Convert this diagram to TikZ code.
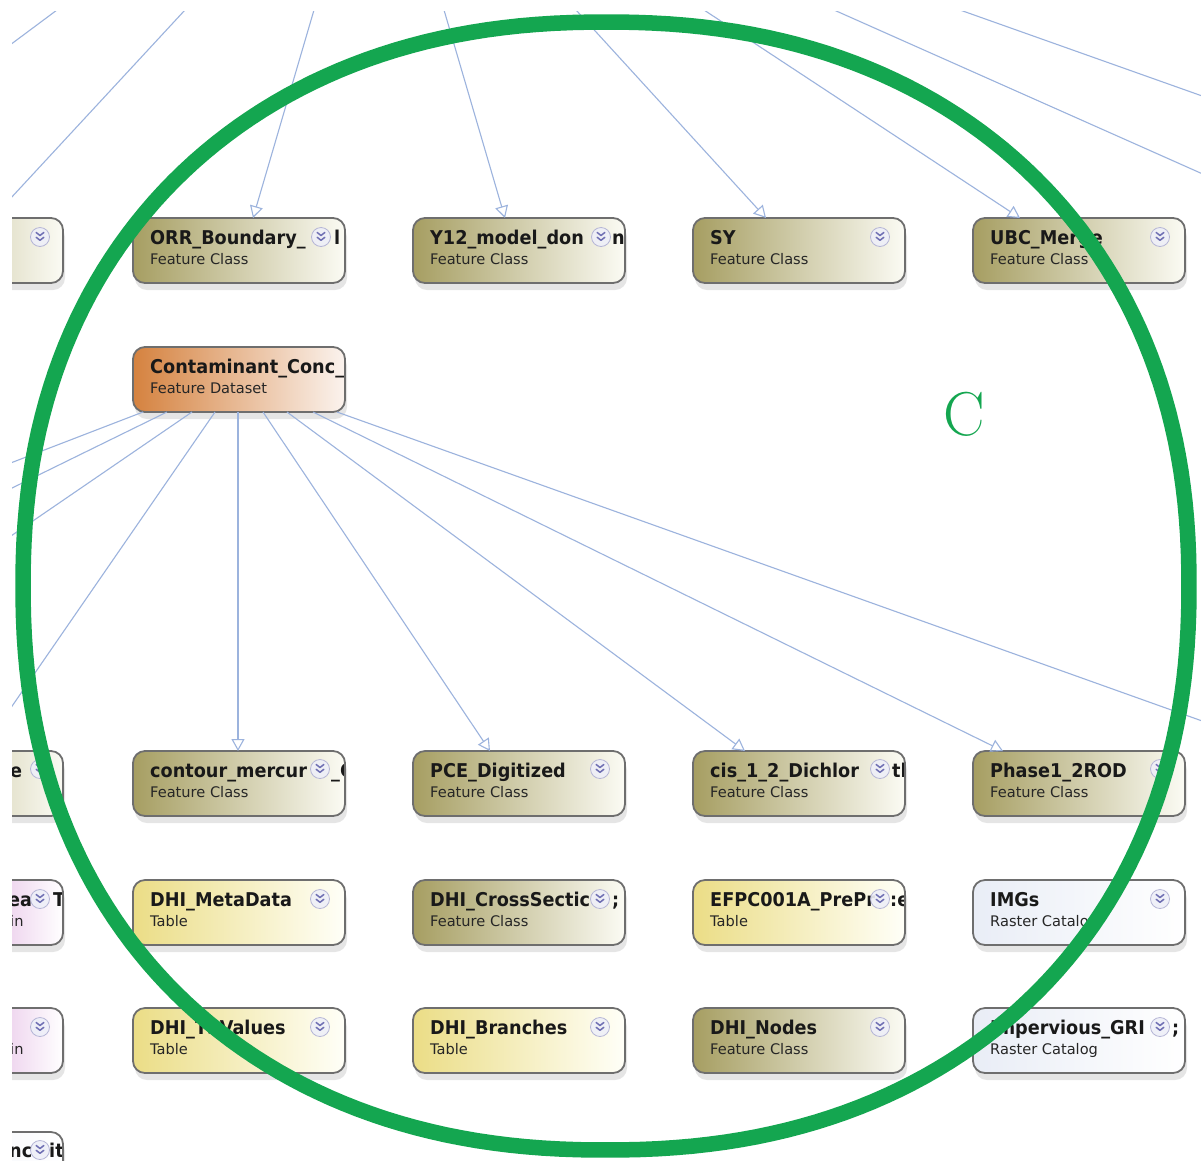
\documentclass[tikz,border=0pt]{standalone}
\usepackage{fontspec}
\newfontfamily\ttlfont{DejaVu Sans}[FakeStretch=0.93]
\newfontfamily\subfont{DejaVu Sans}
\usetikzlibrary{arrows.meta,shadows,calc}
\definecolor{fcL}{HTML}{A69E62}
\definecolor{fcR}{HTML}{FBFBF4}
\definecolor{tbL}{HTML}{EBDD86}
\definecolor{tbR}{HTML}{FFFFF8}
\definecolor{rcL}{HTML}{E9EDF6}
\definecolor{fdL}{HTML}{D5823F}
\definecolor{fdR}{HTML}{FBF3EE}
\definecolor{pkL}{HTML}{C060C0}
\definecolor{bord}{HTML}{6E6E6E}
\definecolor{lnkc}{HTML}{9CB3DD}
\definecolor{ringc}{HTML}{14A650}
\definecolor{chevF}{HTML}{EEEFF8}
\definecolor{chevR}{HTML}{B5B5D6}
\definecolor{chevM}{HTML}{6F6FB3}
\tikzset{
  dbox/.style={rectangle, rounded corners=12pt, minimum width=212pt, minimum height=65pt,
    inner sep=0pt, outer sep=0pt,
    drop shadow={shadow xshift=2pt, shadow yshift=-7pt, opacity=0.2}},
  fcbox/.style={left color=fcL, right color=fcR},
  tbbox/.style={left color=tbL, right color=tbR},
  rcbox/.style={left color=rcL, right color=white},
  fdbox/.style={left color=fdL, right color=fdR},
  pkbox/.style={left color=pkL, right color=white},
  dttl/.style={anchor=base west, inner sep=0pt, text=black!90,
    font=\ttlfont\bfseries\fontsize{19}{19}\selectfont},
  dsub/.style={anchor=base west, inner sep=0pt, text=black!85,
    font=\subfont\fontsize{14.6}{14.6}\selectfont},
  dborder/.style={draw=bord, line width=1.8pt, rounded corners=12pt},
  lnk/.style={draw=lnkc, line width=1.1pt},
  lnkarr/.style={lnk, -{Triangle[open, length=12pt, width=13pt]}},
  ring/.style={draw=ringc, line width=15.5pt},
  chev/.pic={
    \fill[chevF, fill opacity=0.9] (0,0) circle (9.5);
    \draw[chevR, line width=0.8pt] (0,0) circle (9.5);
    \draw[chevM, line width=1.5pt, line cap=round, line join=round]
      (-3.8,-4.5) -- (0,-1.5) -- (3.8,-4.5) (-3.8,0.3) -- (0,3.3) -- (3.8,0.3);
  }
}
\newcommand\dsnode[7]{%
  \node[dbox,#4] (#1) at ({#2+106},{#3+32.5}) {};
  \begin{scope}
    \clip[rounded corners=12pt] (#1.north west) rectangle (#1.south east);
    \node[dttl] (#1-t) at ({#2+17},{#3+26}) {#5};
    \node[dsub] (#1-s) at ({#2+17},{#3+46}) {#6};
    #7
  \end{scope}
  \draw[dborder] (#1.north west) rectangle (#1.south east);
}
\begin{document}
\begin{tikzpicture}[x=1pt,y=-1pt]
\useasboundingbox (0,0) rectangle (1201,1160);
\fill[white] (0,0) rectangle (1201,1160);
\begin{scope}
\clip (12,11) rectangle (1201,1160);
% row 1
\dsnode{l1}{-149}{218}{fcbox}{}{}{\pic at (40,237) {chev};}
\dsnode{orr}{133}{218}{fcbox}{ORR\_Boundary\_}{Feature Class}{\pic at (321,237) {chev}; \node[dttl] (orr-f) at (334,244) {l};}
\dsnode{y12}{413}{218}{fcbox}{Y12\_model\_don}{Feature Class}{\pic at (601,237) {chev}; \node[dttl] (y12-f) at (612,244) {n};}
\dsnode{sy}{693}{218}{fcbox}{SY}{Feature Class}{\pic at (880,237) {chev};}
\dsnode{ubc}{973}{218}{fcbox}{UBC\_Merge}{Feature Class}{\pic at (1160,237) {chev};}
% row 2
\dsnode{cc}{133}{347}{fdbox}{Contaminant\_Conc\_}{Feature Dataset}{}
% row 3
\dsnode{l3}{-149}{751}{fcbox}{}{}{\node[dttl] (l3-f) at (10,777) {e}; \pic at (40,769) {chev};}
\dsnode{cm}{133}{751}{fcbox}{contour\_mercur}{Feature Class}{\pic at (320,769) {chev}; \node[dttl] (cm-f) at (331,777) {\_C};}
\dsnode{pce}{413}{751}{fcbox}{PCE\_Digitized}{Feature Class}{\pic at (600,769) {chev};}
\dsnode{cis}{693}{751}{fcbox}{cis\_1\_2\_Dichlor}{Feature Class}{\pic at (880,769) {chev}; \node[dttl] (cis-f) at (892,777) {tl};}
\dsnode{ph}{973}{751}{fcbox}{Phase1\_2ROD}{Feature Class}{\pic at (1160,769) {chev};}
% row 4
\dsnode{l4}{-149}{880}{pkbox}{}{}{\node[dttl] (l4-f) at (8,906) {ea}; \node[dsub] (l4-g) at (10,926) {in}; \pic at (40,899) {chev}; \node[dttl] (l4-h) at (53,906) {T};}
\dsnode{meta}{133}{880}{tbbox}{DHI\_MetaData}{Table}{\pic at (320,899) {chev};}
\dsnode{xs}{413}{880}{fcbox}{DHI\_CrossSectic}{Feature Class}{\pic at (600,899) {chev}; \node[dttl] (xs-f) at (612,906) {;};}
\dsnode{efpc}{693}{880}{tbbox}{EFPC001A\_PrePr}{Table}{\pic at (880,899) {chev}; \node[dttl] (efpc-f) at (890,906) {:e};}
\dsnode{imgs}{973}{880}{rcbox}{IMGs}{Raster Catalog}{\pic at (1160,899) {chev};}
% row 5
\dsnode{l5}{-149}{1008}{pkbox}{}{}{\node[dsub] (l5-g) at (10,1054) {in}; \pic at (40,1027) {chev};}
\dsnode{ts}{133}{1008}{tbbox}{DHI\_TSValues}{Table}{\pic at (320,1027) {chev};}
\dsnode{br}{413}{1008}{tbbox}{DHI\_Branches}{Table}{\pic at (600,1027) {chev};}
\dsnode{nd}{693}{1008}{fcbox}{DHI\_Nodes}{Feature Class}{\pic at (880,1027) {chev};}
\dsnode{imp}{973}{1008}{rcbox}{Impervious\_GRI}{Raster Catalog}{\pic at (1160,1027) {chev}; \node[dttl] (imp-f) at (1172,1034) {;};}
% row 6
\dsnode{l6}{-149}{1132}{rcbox}{}{}{\node[dttl] (l6-f) at (9,1157) {nc}; \pic at (40,1150) {chev}; \node[dttl] (l6-h) at (49,1157) {it};}
% free ends
\coordinate (t1a) at (57,10); \coordinate (t1b) at (10,45);
\coordinate (t2a) at (185,10); \coordinate (t2b) at (10,199);
\coordinate (t3) at (314,10);
\coordinate (t4) at (444,10);
\coordinate (t5) at (576,10);
\coordinate (t6) at (704,10);
\coordinate (t7a) at (834,10); \coordinate (t7b) at (1205,175);
\coordinate (t8a) at (960,10); \coordinate (t8b) at (1205,97);
\coordinate (l1e) at (8,464);
\coordinate (l2e) at (8,490);
\coordinate (l3e) at (8,538);
\coordinate (l4e) at (8,712);
\coordinate (r1e) at (1205,722);
% connectors
\draw[lnk] (t1a) -- (t1b);
\draw[lnk] (t2a) -- (t2b);
\draw[lnk] (t7a) -- (t7b);
\draw[lnk] (t8a) -- (t8b);
\draw[lnkarr] (t3) -- ($(orr.north west)+(120,0)$);
\draw[lnkarr] (t4) -- ($(y12.north west)+(92,0)$);
\draw[lnkarr] (t5) -- ($(sy.north west)+(73,0)$);
\draw[lnkarr] (t6) -- ($(ubc.north west)+(47,0)$);
\draw[lnk] ($(cc.south west)+(10,0)$) -- (l1e);
\draw[lnk] ($(cc.south west)+(34,0)$) -- (l2e);
\draw[lnk] ($(cc.south west)+(59,0)$) -- (l3e);
\draw[lnk] ($(cc.south west)+(82,0)$) -- (l4e);
\draw[lnkarr] ($(cc.south west)+(105,0)$) -- ($(cm.north west)+(105,0)$);
\draw[lnkarr] ($(cc.south west)+(130,0)$) -- ($(pce.north west)+(77,0)$);
\draw[lnkarr] ($(cc.south west)+(154,0)$) -- ($(cis.north west)+(52,0)$);
\draw[lnkarr] ($(cc.south west)+(180,0)$) -- ($(ph.north west)+(30,0)$);
\draw[lnk] ($(cc.south west)+(204,0)$) -- (r1e);
% highlight ring
\draw[ring] plot[domain=0.5:360.5, samples=241, variable=\t]
  ({606+583*cos(\t)*pow(abs(cos(\t)),-0.091)}, {586+564*sin(\t)*pow(abs(sin(\t)),-0.091)}) -- cycle;
\end{scope}
\node[text=ringc, font=\fontsize{62}{62}\selectfont, inner sep=0pt] (lblC) at (964,414) {C};
\end{tikzpicture}
\end{document}
